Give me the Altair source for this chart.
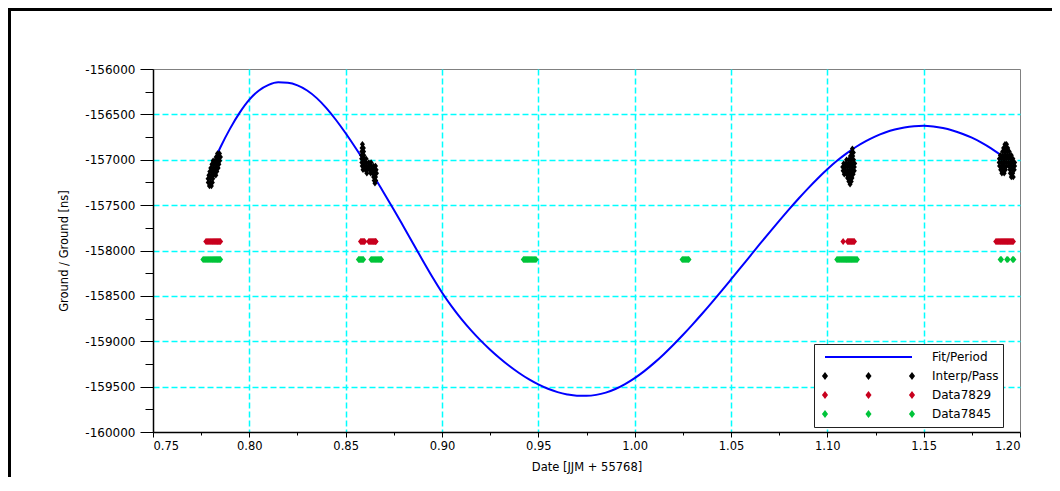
import altair as alt
import pandas as pd

# ---------------- data ----------------
SERIES = ["Fit/Period", "Interp/Pass", "Data7829", "Data7845"]
COLORS = ["#0000ff", "#000000", "#c8001e", "#00c43a"]

fit_x = [0.7837, 0.785, 0.790, 0.795, 0.800, 0.805, 0.810, 0.815, 0.820, 0.825,
         0.830, 0.835, 0.840, 0.845, 0.850, 0.855, 0.860, 0.865, 0.870, 0.875,
         0.880, 0.885, 0.890, 0.895, 0.900, 0.905, 0.910, 0.915, 0.920, 0.925,
         0.930, 0.935, 0.940, 0.945, 0.950, 0.955, 0.960, 0.965, 0.970, 0.975,
         0.980, 0.985, 0.990, 0.995, 1.000, 1.005, 1.010, 1.015, 1.020, 1.025,
         1.030, 1.035, 1.040, 1.045, 1.050, 1.055, 1.060, 1.065, 1.070, 1.075,
         1.080, 1.085, 1.090, 1.095, 1.100, 1.105, 1.110, 1.115, 1.120, 1.125,
         1.130, 1.135, 1.140, 1.145, 1.150, 1.155, 1.160, 1.165, 1.170, 1.175,
         1.180, 1.185, 1.190]
fit_y = [-156920, -156862, -156657, -156481, -156338, -156237, -156175, -156147, -156152, -156181,
         -156237, -156321, -156431, -156562, -156708, -156865, -157028, -157196, -157371, -157550,
         -157735, -157922, -158110, -158292, -158462, -158616, -158753, -158877, -158990, -159093,
         -159187, -159273, -159350, -159418, -159476, -159524, -159561, -159586, -159600, -159601,
         -159591, -159566, -159526, -159472, -159406, -159329, -159241, -159145, -159041, -158931,
         -158816, -158697, -158574, -158448, -158319, -158189, -158058, -157928, -157800, -157674,
         -157550, -157430, -157315, -157206, -157105, -157012, -156930, -156857, -156795, -156742,
         -156700, -156667, -156644, -156630, -156625, -156633, -156650, -156677, -156713, -156757,
         -156811, -156874, -156947]

# Interp/Pass points: one row of x values per y level, four passes
pass_rows = [
    # pass 1
    (-156930, [0.7835, 0.7845]),
    (-156970, [0.7828, 0.7840, 0.7850]),
    (-157010, [0.7812, 0.7822, 0.7834, 0.7846]),
    (-157050, [0.7806, 0.7818, 0.7830, 0.7842]),
    (-157090, [0.7800, 0.7813, 0.7826, 0.7838]),
    (-157130, [0.7795, 0.7807, 0.7819, 0.7831]),
    (-157170, [0.7790, 0.7802, 0.7814, 0.7826]),
    (-157210, [0.7786, 0.7798, 0.7810]),
    (-157250, [0.7787, 0.7798, 0.7808]),
    (-157290, [0.7793, 0.7803]),
    # pass 2
    (-156830, [0.8587]),
    (-156870, [0.8585, 0.8592]),
    (-156910, [0.8584, 0.8593]),
    (-156950, [0.8583, 0.8594]),
    (-156990, [0.8583, 0.8594, 0.8606]),
    (-157030, [0.8584, 0.8595, 0.8607, 0.8620, 0.8632]),
    (-157070, [0.8586, 0.8597, 0.8609, 0.8621, 0.8633, 0.8645, 0.8655]),
    (-157110, [0.8590, 0.8602, 0.8614, 0.8626, 0.8638, 0.8650, 0.8658]),
    (-157150, [0.8610, 0.8630, 0.8642, 0.8652, 0.8660]),
    (-157190, [0.8645, 0.8655]),
    (-157230, [0.8648, 0.8656]),
    (-157260, [0.8652]),
    # pass 3
    (-156880, [1.1130]),
    (-156920, [1.1125, 1.1135]),
    (-156960, [1.1120, 1.1132]),
    (-157000, [1.1100, 1.1112, 1.1124, 1.1136]),
    (-157040, [1.1085, 1.1097, 1.1109, 1.1121, 1.1133, 1.1142]),
    (-157080, [1.1080, 1.1092, 1.1104, 1.1116, 1.1128, 1.1140]),
    (-157120, [1.1082, 1.1094, 1.1106, 1.1118, 1.1130, 1.1140]),
    (-157160, [1.1088, 1.1100, 1.1112, 1.1124, 1.1134]),
    (-157200, [1.1105, 1.1117, 1.1128]),
    (-157240, [1.1112, 1.1124]),
    (-157270, [1.1118]),
    # pass 4
    (-156830, [1.1922, 1.1930]),
    (-156870, [1.1915, 1.1927, 1.1936]),
    (-156910, [1.1910, 1.1922, 1.1934, 1.1944]),
    (-156950, [1.1898, 1.1910, 1.1922, 1.1934, 1.1946, 1.1955]),
    (-156990, [1.1893, 1.1905, 1.1917, 1.1929, 1.1941, 1.1953, 1.1963]),
    (-157030, [1.1892, 1.1904, 1.1916, 1.1928, 1.1940, 1.1952, 1.1965, 1.1972]),
    (-157070, [1.1894, 1.1906, 1.1918, 1.1930, 1.1942, 1.1954, 1.1966, 1.1972]),
    (-157110, [1.1900, 1.1912, 1.1924, 1.1948, 1.1960, 1.1970]),
    (-157150, [1.1906, 1.1918, 1.1950, 1.1962]),
    (-157190, [1.1955, 1.1965]),
]

d7829_level = -157900
d7829_x = [0.7775, 0.7780, 0.7785, 0.7790, 0.7795, 0.7800, 0.7805, 0.7810, 0.7815, 0.7820,
           0.7825, 0.7830, 0.7835, 0.7840, 0.7845, 0.7850,
           0.8578, 0.8583, 0.8588, 0.8593, 0.8598,
           0.8620, 0.8625, 0.8630, 0.8635, 0.8640, 0.8645, 0.8650, 0.8655, 0.8657,
           1.1082,
           1.1105, 1.1110, 1.1115, 1.1120, 1.1125, 1.1130, 1.1135, 1.1140,
           1.1875, 1.1880, 1.1885, 1.1890, 1.1895, 1.1900, 1.1905, 1.1910, 1.1915, 1.1920,
           1.1925, 1.1930, 1.1935, 1.1940, 1.1945, 1.1950, 1.1955, 1.1960, 1.1965]

d7845_level = -158100
d7845_x = [0.7760, 0.7765, 0.7770, 0.7775, 0.7780, 0.7785, 0.7790, 0.7795, 0.7800, 0.7805,
           0.7810, 0.7815, 0.7820, 0.7825, 0.7830, 0.7835, 0.7840, 0.7845, 0.7850,
           0.8567, 0.8572, 0.8577, 0.8582, 0.8587, 0.8592,
           0.8632, 0.8637, 0.8642, 0.8647, 0.8652, 0.8657, 0.8662, 0.8667, 0.8672, 0.8677,
           0.8682, 0.8685,
           0.9423, 0.9428, 0.9433, 0.9438, 0.9443, 0.9448, 0.9453, 0.9458, 0.9463, 0.9468,
           0.9473, 0.9478, 0.9483, 0.9488,
           1.0247, 1.0252, 1.0257, 1.0262, 1.0267, 1.0272, 1.0277, 1.0281,
           1.1050, 1.1055, 1.1060, 1.1065, 1.1070, 1.1075, 1.1080, 1.1085, 1.1090, 1.1095,
           1.1100, 1.1105, 1.1110, 1.1115, 1.1120, 1.1125, 1.1130, 1.1135, 1.1140, 1.1145,
           1.1150, 1.1155,
           1.1898, 1.1903, 1.1932, 1.1937, 1.1962, 1.1967]

x_ticks = [0.75, 0.775, 0.80, 0.825, 0.85, 0.875, 0.90, 0.925, 0.95, 0.975, 1.00,
           1.025, 1.05, 1.075, 1.10, 1.125, 1.15, 1.175, 1.20]
y_ticks = [-160000, -159750, -159500, -159250, -159000, -158750, -158500, -158250,
           -158000, -157750, -157500, -157250, -157000, -156750, -156500, -156250, -156000]

# ---------------- tables ----------------
pass_x = [x for _, xs in pass_rows for x in xs]
pass_y = [y for y, xs in pass_rows for _ in xs]

fit_df = pd.DataFrame({"x": fit_x, "y": fit_y, "s": SERIES[0]})
pass_df = pd.DataFrame({"x": pass_x, "y": pass_y, "s": SERIES[1]})
d1_df = pd.DataFrame({"x": d7829_x, "y": [d7829_level] * len(d7829_x), "s": SERIES[2]})
d2_df = pd.DataFrame({"x": d7845_x, "y": [d7845_level] * len(d7845_x), "s": SERIES[3]})
all_df = pd.concat([fit_df, pass_df, d1_df, d2_df], ignore_index=True)

W, H = 867, 363
PAD = {"left": 145, "top": 61, "right": 32, "bottom": 45}
FONT = "DejaVu Sans"

# legend glyphs: a line for the fit, three diamonds for the point series
LINE_PATH = "M-1,-0.025L1,-0.025L1,0.025L-1,0.025Z"
DIA3_PATH = ("M-1,-0.09L-0.93,0L-1,0.09L-1.07,0Z "
             "M0,-0.09L0.07,0L0,0.09L-0.07,0Z "
             "M1,-0.09L1.07,0L1,0.09L0.93,0Z")
DIAMOND = "M0,-1L0.78,0L0,1L-0.78,0Z"

cscale = alt.Scale(domain=SERIES, range=COLORS)
sscale = alt.Scale(domain=SERIES, range=[LINE_PATH, DIA3_PATH, DIA3_PATH, DIA3_PATH])

legend = alt.Legend(
    title=None,
    orient="none",
    legendX=661,
    legendY=275,
    direction="vertical",
    fillColor="#ffffff",
    strokeColor="#222222",
    padding=4,
    symbolSize=7569,
    symbolOffset=7,
    symbolOpacity=1,
    symbolStrokeWidth=0,
    labelOffset=20,
    clipHeight=18,
    rowPadding=1,
    labelFont=FONT,
    labelFontSize=12,
    labelColor="#000000",
)

x_major = "abs(round(datum.value * 1000) % 50) < 1"
x_inner = f"{x_major} && datum.value > 0.76 && datum.value < 1.19"
y_major = "datum.value % 500 === 0"
y_inner = f"{y_major} && datum.value > -159990 && datum.value < -156010"

x_enc = alt.X(
    "x:Q",
    scale=alt.Scale(domain=[0.75, 1.20], nice=False, zero=False),
    axis=alt.Axis(
        title="Date [JJM + 55768]",
        values=x_ticks,
        labelExpr=f"{x_major} ? format(datum.value, '.2f') : ''",
        tickSize={"condition": {"test": x_major, "value": 5}, "value": 3},
        gridOpacity={"condition": {"test": x_inner, "value": 1}, "value": 0},
        labelPadding=3,
        titlePadding=10,
    ),
)
y_enc = alt.Y(
    "y:Q",
    scale=alt.Scale(domain=[-160000, -156000], nice=False, zero=False),
    axis=alt.Axis(
        title="Ground / Ground [ns]",
        values=y_ticks,
        labelExpr=f"{y_major} ? '' + datum.value : ''",
        tickSize={"condition": {"test": y_major, "value": 13}, "value": 8},
        gridOpacity={"condition": {"test": y_inner, "value": 1}, "value": 0},
        labelPadding=5,
        titlePadding=15,
    ),
)
color_nolegend = alt.Color("s:N", scale=cscale, legend=None)

# invisible layer that only produces the combined legend (kept first so its legend wins)
legend_layer = alt.Chart(all_df).mark_point(filled=True, opacity=0).encode(
    x=x_enc,
    y=y_enc,
    color=alt.Color("s:N", scale=cscale, legend=legend),
    shape=alt.Shape("s:N", scale=sscale, legend=legend),
)

fit = alt.Chart(fit_df).mark_line(strokeWidth=2, interpolate="monotone").encode(
    x=x_enc, y=y_enc, color=color_nolegend
)
passes = alt.Chart(pass_df).mark_point(
    shape=DIAMOND, filled=True, size=42, opacity=1
).encode(x=x_enc, y=y_enc, color=color_nolegend)
d1 = alt.Chart(d1_df).mark_point(
    shape=DIAMOND, filled=True, size=49, opacity=1
).encode(x=x_enc, y=y_enc, color=color_nolegend)
d2 = alt.Chart(d2_df).mark_point(
    shape=DIAMOND, filled=True, size=49, opacity=1
).encode(x=x_enc, y=y_enc, color=color_nolegend)

frame_df = pd.DataFrame({"k": [0]})
frame_top = alt.Chart(frame_df).mark_rule(color="#000000", strokeWidth=3).encode(
    x=alt.value(-PAD["left"]), x2=alt.value(W + PAD["right"]), y=alt.value(-PAD["top"] + 1.5)
)
frame_left = alt.Chart(frame_df).mark_rule(color="#000000", strokeWidth=3).encode(
    x=alt.value(-PAD["left"] + 1.5), y=alt.value(-PAD["top"]), y2=alt.value(H + PAD["bottom"])
)

chart = (
    alt.layer(legend_layer, fit, passes, d1, d2, frame_top, frame_left)
    .properties(
        width=W,
        height=H,
        padding=PAD,
        autosize=alt.AutoSizeParams(type="none"),
        background="#ffffff",
    )
    .configure_view(stroke="#808080", strokeWidth=1)
    .configure_axis(
        labelFont=FONT,
        labelFontSize=12,
        labelColor="#000000",
        titleFont=FONT,
        titleFontSize=11.5,
        titleFontWeight="normal",
        titleColor="#000000",
        domainColor="#000000",
        domainWidth=1.5,
        tickColor="#000000",
        tickWidth=1,
        gridColor="#00ffff",
        gridDash=[6, 3],
        gridWidth=1.5,
    )
    .configure_axisX(labelFontSize=11.5)
)

chart.save("out.html", embed_options={"renderer": "svg", "actions": False})
